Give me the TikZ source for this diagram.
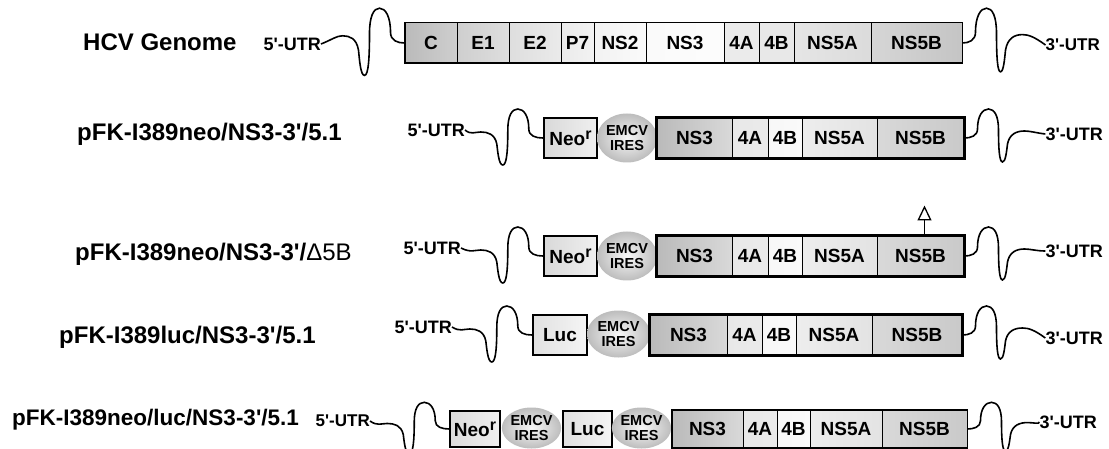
\documentclass[tikz,border=0pt]{standalone}
\usepackage{fontspec}
\setmainfont{Liberation Sans}
\setsansfont{Liberation Sans}
\usetikzlibrary{arrows.meta, shapes.geometric}
\newcommand{\pr}{\textquotesingle}
\newcommand{\neor}{Neo\raisebox{6pt}{\fontsize{16}{16}\selectfont r}}

\tikzset{
    seg/.style={draw, line width=1pt, inner sep=0pt, minimum height=40pt,
        font=\fontsize{19}{19}\selectfont\bfseries},
    marker/.style={draw, inner sep=0pt, minimum height=40pt,
        font=\fontsize{19}{19}\selectfont\bfseries},
    ires/.style={ellipse, inner sep=0pt, inner color=black!3, outer color=black!26,
        align=center, font=\fontsize{14.5}{15}\selectfont\bfseries},
    utr/.style={inner sep=0pt, font=\fontsize{18}{18}\selectfont\bfseries},
    title/.style={inner sep=0pt, anchor=west, font=\fontsize{24}{24}\selectfont\bfseries},
    wig/.style={line width=1.6pt}
}

\begin{document}
\begin{tikzpicture}[x=1pt, y=-1pt]

    % canvas in pixel units (y runs down)
    \useasboundingbox[fill=white] (0,0) rectangle (1109,449);

    % 1. HCV genome
    \node[title] (hcv-t) at (83,42) {HCV Genome};
    \node[utr, anchor=east] (hcv-l) at (321,44) {5\pr-UTR};
    \node[utr, anchor=east, font=\fontsize{17}{17}\selectfont\bfseries] (hcv-r) at (1100,45) {3\pr-UTR};
    \foreach \a/\b/\lab/\l/\r [count=\i] in {405/457/C/27/19, 457/509/E1/19/13,
            509/561/E2/13/8, 561/594/P7/8/5, 594/646/NS2/5/2, 646/724/NS3/2/1,
            724/759/4A/8/8, 759/794/4B/9/9, 794/871/NS5A/10/14, 871/962/NS5B/16/23}
        \node[seg, left color=black!\l, right color=black!\r,
            minimum width=(\b-\a)*1pt] (hcv\i) at ({(\a+\b)/2},43) {\lab};
    \draw[line width=1.8pt] (hcv1.north west) rectangle (hcv10.south east);

    % 2. replicon titles and UTR labels
    \node[title] (neo-t) at (77,134) {pFK-I389neo/NS3-3\pr/5.1};
    \node[title] (del-t) at (75,254) {pFK-I389neo/NS3-3\pr/{\mdseries Δ5B}};
    \node[title] (luc-t) at (59,337) {pFK-I389luc/NS3-3\pr/5.1};
    \node[title, font=\fontsize{22.5}{22.5}\selectfont\bfseries] (nlu-t) at (12,420)
        {pFK-I389neo/luc/NS3-3\pr/5.1};

    \node[utr, anchor=east] (neo-l) at (465,130) {5\pr-UTR};
    \node[utr, anchor=east] (del-l) at (461,248) {5\pr-UTR};
    \node[utr, anchor=east] (luc-l) at (452,327) {5\pr-UTR};
    \node[utr, anchor=east, font=\fontsize{17}{17}\selectfont\bfseries] (nlu-l) at (370,421) {5\pr-UTR};
    \node[utr, anchor=east] (neo-r) at (1103,134) {3\pr-UTR};
    \node[utr, anchor=east] (del-r) at (1103,251) {3\pr-UTR};
    \node[utr, anchor=east] (luc-r) at (1103,338) {3\pr-UTR};
    \node[utr, anchor=east] (nlu-r) at (1097,422) {3\pr-UTR};

    % 3. selection markers and EMCV IRES
    \node[marker, line width=2.4pt, left color=black!15, right color=black!6,
        minimum width=53pt] (neo-neo) at (570.5,138) {\neor};
    \node[ires, minimum width=60pt, minimum height=49pt] (neo-ires) at (627,138) {EMCV\\IRES};
    \node[marker, line width=2.4pt, left color=black!15, right color=black!6,
        minimum width=53pt] (del-neo) at (570.5,256) {\neor};
    \node[ires, minimum width=60pt, minimum height=49pt] (del-ires) at (627,256) {EMCV\\IRES};
    \node[marker, line width=2.4pt, left color=black!12, right color=black!4,
        minimum width=54pt] (luc-luc) at (560,335) {Luc};
    \node[ires, minimum width=63pt, minimum height=47pt] (luc-ires) at (618.5,334) {EMCV\\IRES};
    \node[marker, line width=1.5pt, left color=black!14, right color=black!6,
        minimum width=50pt, minimum height=36pt] (nlu-neo) at (475,429) {\neor};
    \node[ires, minimum width=57pt, minimum height=41pt] (nlu-ires1) at (531.5,428) {EMCV\\IRES};
    \node[marker, line width=1.5pt, left color=black!12, right color=black!4,
        minimum width=49pt, minimum height=36pt] (nlu-luc) at (587.5,429) {Luc};
    \node[ires, minimum width=53pt, minimum height=41pt] (nlu-ires2) at (641.5,428) {EMCV\\IRES};

    % 4. NS3-NS5B polyprotein of each replicon
    \foreach \rw/\y/\h/\bw/\xa/\xb/\xc/\xd/\xe/\xf in {
            neo/138/40/2.6/657/732/768/802/877/964,
            del/256/40/2.6/657/732/768/802/877/964,
            luc/335/40/2.6/650/727/762/796/872/962,
            nlu/429/37/1.8/672/743/777/810/882/967} {
        \foreach \a/\b/\lab/\l/\r [count=\i] in {\xa/\xb/NS3/27/15, \xb/\xc/4A/9/8,
                \xc/\xd/4B/3/2, \xd/\xe/NS5A/7/11, \xe/\xf/NS5B/15/21}
            \node[seg, minimum height=\h pt, left color=black!\l, right color=black!\r,
                minimum width=(\b-\a)*1pt] (\rw\i) at ({(\a+\b)/2},\y) {\lab};
        \draw[line width=\bw pt] (\rw1.north west) rectangle (\rw5.south east);
    }

    % 5. UTR stem-loops (drawn out from the box ends)
    \foreach \u/\f/\e/\t/\s in {hcv-l/hcv1/hcv10/hcv-r/1.2, neo-l/neo-neo/neo5/neo-r/1,
            del-l/del-neo/del5/del-r/1, luc-l/luc-luc/luc5/luc-r/1, nlu-l/nlu-neo/nlu5/nlu-r/0.92} {
        \draw[wig, shift={(\f.west)}, yscale=\s] (0,0) .. controls (-7,0) and (-14,-2) .. (-14,-9)
            .. controls (-14,-22) and (-19,-29) .. (-25,-29)
            .. controls (-31,-29) and (-35,-22) .. (-35,-8)
            .. controls (-35,12) and (-36,27) .. (-40,27)
            .. controls (-44,27) and (-45,14) .. (-46,6)
            .. controls (-48,-4) and (-55,-6) .. (-62,-6)
            .. controls (-68,-6) and (-72,-3) .. (\u.east);
        \draw[wig, shift={(\e.east)}, yscale=\s] (0,0) .. controls (6,0) and (13,-2) .. (13,-9)
            .. controls (13,-22) and (18,-29) .. (24,-29)
            .. controls (30,-29) and (34,-22) .. (34,-8)
            .. controls (34,12) and (35,24) .. (38,24)
            .. controls (41,24) and (42,14) .. (43,6)
            .. controls (45,-4) and (52,-7) .. (60,-7)
            .. controls (66,-7) and (72,-5) .. (\t.west);
    }

    % deletion in NS5B
    \draw[-{Triangle[open, length=15pt, width=14pt]}, line width=1.3pt]
        ([xshift=4pt]del5.north) -- ++(0,-30);

\end{tikzpicture}
\end{document}
